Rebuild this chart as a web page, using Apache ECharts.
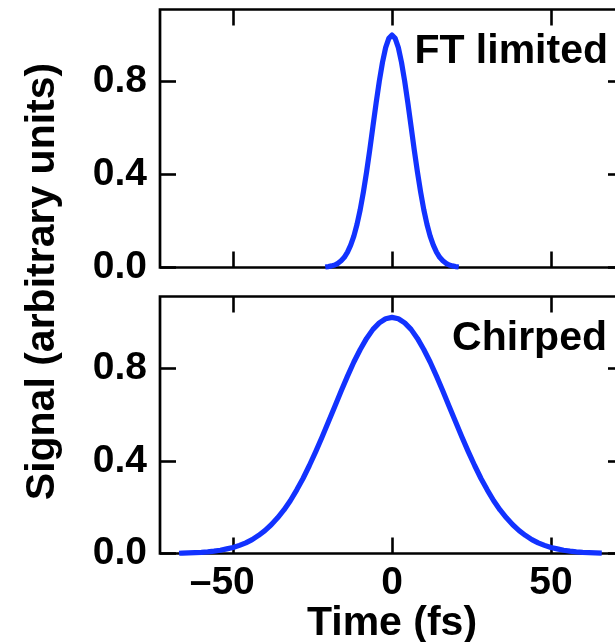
<!DOCTYPE html>
<html>
<head>
<meta charset="utf-8">
<script src="https://cdn.jsdelivr.net/npm/echarts@6/dist/echarts.min.js"></script>
<style>
  html, body { margin: 0; padding: 0; background: #ffffff; }
  #chart { width: 615px; height: 642px; }
</style>
</head>
<body>
<div id="chart"></div>
<script>
// Transform-limited pulse: time (fs) and normalised signal
const ftTime = [-21, -20, -19, -18, -17, -16, -15, -14, -13, -12, -11, -10, -9, -8, -7, -6, -5, -4, -3, -2, -1, 0,
                1, 2, 3, 4, 5, 6, 7, 8, 9, 10, 11, 12, 13, 14, 15, 16, 17, 18, 19, 20, 21];
const ftSignal = [0.002, 0.004, 0.007, 0.011, 0.018, 0.029, 0.044, 0.066, 0.096, 0.135, 0.186, 0.249, 0.325, 0.411,
                  0.506, 0.607, 0.707, 0.801, 0.882, 0.946, 0.986, 1.000,
                  0.986, 0.946, 0.882, 0.801, 0.707, 0.607, 0.506, 0.411, 0.325, 0.249, 0.186, 0.135, 0.096, 0.066,
                  0.044, 0.029, 0.018, 0.011, 0.007, 0.004, 0.002];

// Chirped pulse: time (fs) and signal
const chirpTime = [-67, -66, -64, -62, -60, -58, -56, -54, -52, -50, -48, -46, -44, -42, -40, -38, -36, -34, -32, -30,
                   -28, -26, -24, -22, -20, -18, -16, -14, -12, -10, -8, -6, -4, -2, 0,
                   2, 4, 6, 8, 10, 12, 14, 16, 18, 20, 22, 24, 26, 28, 30, 32, 34, 36, 38, 40, 42, 44, 46, 48,
                   50, 52, 54, 56, 58, 60, 62, 64, 66];
const chirpSignal = [0.001, 0.002, 0.003, 0.004, 0.005, 0.007, 0.010, 0.014, 0.020, 0.026, 0.035, 0.046, 0.060, 0.078,
                     0.099, 0.124, 0.154, 0.188, 0.228, 0.274, 0.324, 0.380, 0.440, 0.503, 0.569, 0.635, 0.702, 0.766,
                     0.827, 0.881, 0.929, 0.968, 0.996, 1.014, 1.020,
                     1.014, 0.996, 0.968, 0.929, 0.881, 0.827, 0.766, 0.702, 0.635, 0.569, 0.503, 0.440, 0.380, 0.324,
                     0.274, 0.228, 0.188, 0.154, 0.124, 0.099, 0.078, 0.060, 0.046, 0.035, 0.026, 0.020, 0.014, 0.010,
                     0.007, 0.005, 0.004, 0.003, 0.002];

const timeTicks   = [-50, 0, 50];
const signalTicks = [0, 0.4, 0.8];
const panelLabels = ['FT limited', 'Chirped'];
const xTitle = 'Time (fs)';
const yTitle = 'Signal (arbitrary units)';

const FONT = '"Liberation Sans", Arial, Helvetica, sans-serif';
const BLUE = '#1232ff';
const TICK_FONT = 39;
const TEXT_FONT = 41;

const zip = (xs, ys) => xs.map((x, i) => [x, ys[i]]);

const tickStyle = (values) => ({
  show: true, inside: true, length: 16, customValues: values,
  lineStyle: { color: '#000', width: 2.6 }
});

function xAxisFor(gridIndex, position, withLabels) {
  return {
    type: 'value', gridIndex, position, min: -73, max: 73,
    axisLine: { show: false, onZero: false }, splitLine: { show: false },
    axisTick: tickStyle(timeTicks),
    axisLabel: withLabels ? {
      show: true, customValues: timeTicks, margin: 10,
      fontFamily: FONT, fontWeight: 'bold', fontSize: TICK_FONT, color: '#000',
      // the pad token mirrors the dash so the digits stay centred on the tick
      formatter: v => v < 0 ? '{d|\u2013}' + Math.abs(v) + '{p|\u2013}' : String(v),
      rich: {
        d: { fontFamily: FONT, fontWeight: 'bold', fontSize: TICK_FONT, color: '#000' },
        p: { fontFamily: FONT, fontWeight: 'bold', fontSize: TICK_FONT, color: 'rgba(0,0,0,0)' }
      }
    } : { show: false },
    name: withLabels ? xTitle : '',
    nameLocation: 'middle', nameGap: 44,
    nameTextStyle: { fontFamily: FONT, fontWeight: 'bold', fontSize: TEXT_FONT, color: '#000' }
  };
}

function yAxisFor(gridIndex, position, withLabels) {
  return {
    type: 'value', gridIndex, position, min: 0, max: 1.11,
    axisLine: { show: false, onZero: false }, splitLine: { show: false },
    axisTick: tickStyle(signalTicks),
    axisLabel: withLabels ? {
      show: true, customValues: signalTicks, margin: 13,
      fontFamily: FONT, fontWeight: 'bold', fontSize: TICK_FONT, color: '#000',
      formatter: v => v.toFixed(1)
    } : { show: false }
  };
}

const frame = {
  show: true, borderColor: '#000', borderWidth: 2.7, backgroundColor: 'transparent',
  outerBoundsMode: 'none'
};

const option = {
  animation: false,
  backgroundColor: '#ffffff',
  grid: [
    Object.assign({ left: 160, top: 9.5, width: 464, height: 258 }, frame),
    Object.assign({ left: 160, top: 296.5, width: 464, height: 257 }, frame)
  ],
  xAxis: [
    xAxisFor(0, 'bottom', false),
    xAxisFor(0, 'top', false),
    xAxisFor(1, 'bottom', true),
    xAxisFor(1, 'top', false)
  ],
  yAxis: [
    yAxisFor(0, 'left', true),
    yAxisFor(0, 'right', false),
    yAxisFor(1, 'left', true),
    yAxisFor(1, 'right', false)
  ],
  series: [
    {
      type: 'line', xAxisIndex: 0, yAxisIndex: 0,
      data: zip(ftTime, ftSignal), showSymbol: false,
      lineStyle: { color: BLUE, width: 5.2, join: 'round' }
    },
    {
      type: 'line', xAxisIndex: 2, yAxisIndex: 2,
      data: zip(chirpTime, chirpSignal), showSymbol: false,
      lineStyle: { color: BLUE, width: 5.2, join: 'round' }
    }
  ],
  graphic: [
    {
      type: 'text', right: 7, top: 31,
      style: { text: panelLabels[0], font: 'bold ' + TEXT_FONT + 'px ' + FONT, fill: '#000' }
    },
    {
      type: 'text', right: 8, top: 318,
      style: { text: panelLabels[1], font: 'bold ' + TEXT_FONT + 'px ' + FONT, fill: '#000' }
    },
    {
      type: 'text', x: 43, y: 281.5, rotation: Math.PI / 2,
      style: {
        text: yTitle, font: 'bold ' + TEXT_FONT + 'px ' + FONT, fill: '#000',
        align: 'center', verticalAlign: 'middle'
      }
    }
  ]
};

const chart = echarts.init(document.getElementById('chart'), null, { renderer: 'canvas' });
chart.setOption(option);
</script>
</body>
</html>
